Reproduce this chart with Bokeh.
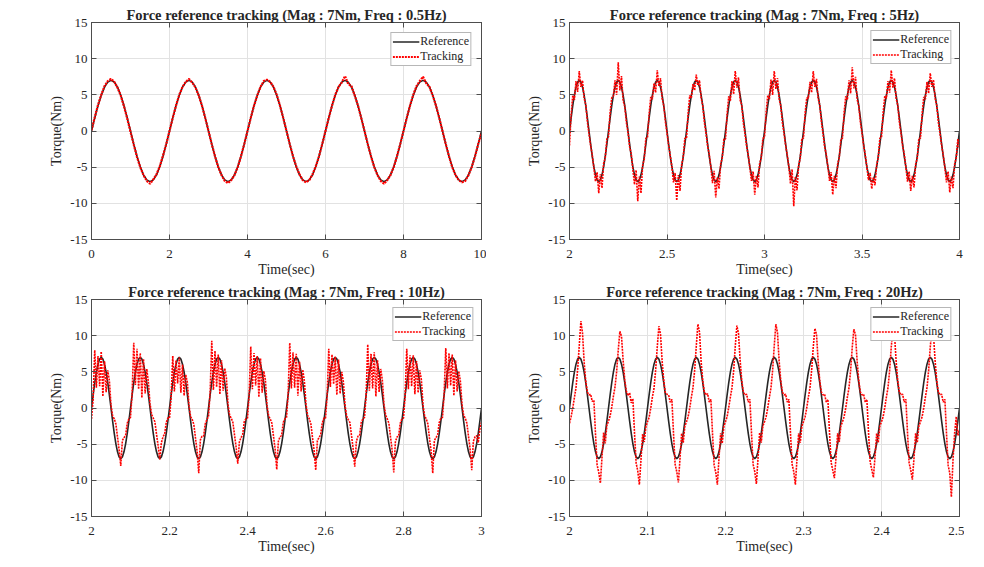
import numpy as np
from bokeh.plotting import figure
from bokeh.layouts import gridplot
from bokeh.models import FixedTicker, LinearAxis
from bokeh.embed import file_html
from bokeh.resources import INLINE

# ---------------- data ----------------
titles = [
    "Force reference tracking (Mag : 7Nm, Freq : 0.5Hz)",
    "Force reference tracking (Mag : 7Nm, Freq : 5Hz)",
    "Force reference tracking (Mag : 7Nm, Freq : 10Hz)",
    "Force reference tracking (Mag : 7Nm, Freq : 20Hz)",
]
x_starts = [0, 2, 2, 2]
x_ends = [10, 4, 3, 2.5]

x_ticks_05hz = [0, 2, 4, 6, 8, 10]
x_labels_05hz = ["0", "2", "4", "6", "8", "10"]
x_ticks_5hz = [2, 2.5, 3, 3.5, 4]
x_labels_5hz = ["2", "2.5", "3", "3.5", "4"]
x_ticks_10hz = [2, 2.2, 2.4, 2.6, 2.8, 3]
x_labels_10hz = ["2", "2.2", "2.4", "2.6", "2.8", "3"]
x_ticks_20hz = [2, 2.1, 2.2, 2.3, 2.4, 2.5]
x_labels_20hz = ["2", "2.1", "2.2", "2.3", "2.4", "2.5"]
y_ticks = [-15, -10, -5, 0, 5, 10, 15]
y_labels = ["-15", "-10", "-5", "0", "5", "10", "15"]

# reference torque, 0.5 Hz panel (5 periods, 24 samples / period)
reference_05hz = [
    0, 1.81, 3.5, 4.95, 6.06, 6.76, 7, 6.76, 6.06, 4.95, 3.5, 1.81, 0, -1.81, -3.5, -4.95, -6.06, -6.76, -7, -6.76, -6.06, -4.95, -3.5, -1.81,
    0, 1.81, 3.5, 4.95, 6.06, 6.76, 7, 6.76, 6.06, 4.95, 3.5, 1.81, 0, -1.81, -3.5, -4.95, -6.06, -6.76, -7, -6.76, -6.06, -4.95, -3.5, -1.81,
    0, 1.81, 3.5, 4.95, 6.06, 6.76, 7, 6.76, 6.06, 4.95, 3.5, 1.81, 0, -1.81, -3.5, -4.95, -6.06, -6.76, -7, -6.76, -6.06, -4.95, -3.5, -1.81,
    0, 1.81, 3.5, 4.95, 6.06, 6.76, 7, 6.76, 6.06, 4.95, 3.5, 1.81, 0, -1.81, -3.5, -4.95, -6.06, -6.76, -7, -6.76, -6.06, -4.95, -3.5, -1.81,
    0, 1.81, 3.5, 4.95, 6.06, 6.76, 7, 6.76, 6.06, 4.95, 3.5, 1.81, 0, -1.81, -3.5, -4.95, -6.06, -6.76, -7, -6.76, -6.06, -4.95, -3.5, -1.81,
    0,
]

# reference torque for the 5 / 10 / 20 Hz panels (each window shows 10 periods)
reference_10_periods = [
    0, 1.81, 3.5, 4.95, 6.06, 6.76, 7, 6.76, 6.06, 4.95, 3.5, 1.81, 0, -1.81, -3.5, -4.95, -6.06, -6.76, -7, -6.76, -6.06, -4.95, -3.5, -1.81,
    0, 1.81, 3.5, 4.95, 6.06, 6.76, 7, 6.76, 6.06, 4.95, 3.5, 1.81, 0, -1.81, -3.5, -4.95, -6.06, -6.76, -7, -6.76, -6.06, -4.95, -3.5, -1.81,
    0, 1.81, 3.5, 4.95, 6.06, 6.76, 7, 6.76, 6.06, 4.95, 3.5, 1.81, 0, -1.81, -3.5, -4.95, -6.06, -6.76, -7, -6.76, -6.06, -4.95, -3.5, -1.81,
    0, 1.81, 3.5, 4.95, 6.06, 6.76, 7, 6.76, 6.06, 4.95, 3.5, 1.81, 0, -1.81, -3.5, -4.95, -6.06, -6.76, -7, -6.76, -6.06, -4.95, -3.5, -1.81,
    0, 1.81, 3.5, 4.95, 6.06, 6.76, 7, 6.76, 6.06, 4.95, 3.5, 1.81, 0, -1.81, -3.5, -4.95, -6.06, -6.76, -7, -6.76, -6.06, -4.95, -3.5, -1.81,
    0, 1.81, 3.5, 4.95, 6.06, 6.76, 7, 6.76, 6.06, 4.95, 3.5, 1.81, 0, -1.81, -3.5, -4.95, -6.06, -6.76, -7, -6.76, -6.06, -4.95, -3.5, -1.81,
    0, 1.81, 3.5, 4.95, 6.06, 6.76, 7, 6.76, 6.06, 4.95, 3.5, 1.81, 0, -1.81, -3.5, -4.95, -6.06, -6.76, -7, -6.76, -6.06, -4.95, -3.5, -1.81,
    0, 1.81, 3.5, 4.95, 6.06, 6.76, 7, 6.76, 6.06, 4.95, 3.5, 1.81, 0, -1.81, -3.5, -4.95, -6.06, -6.76, -7, -6.76, -6.06, -4.95, -3.5, -1.81,
    0, 1.81, 3.5, 4.95, 6.06, 6.76, 7, 6.76, 6.06, 4.95, 3.5, 1.81, 0, -1.81, -3.5, -4.95, -6.06, -6.76, -7, -6.76, -6.06, -4.95, -3.5, -1.81,
    0, 1.81, 3.5, 4.95, 6.06, 6.76, 7, 6.76, 6.06, 4.95, 3.5, 1.81, 0, -1.81, -3.5, -4.95, -6.06, -6.76, -7, -6.76, -6.06, -4.95, -3.5, -1.81,
    0,
]

tracking_05hz = [
    0.1, 1.9, 3.6, 5.0, 6.2, 6.9, 7.2, 6.8, 6.0, 4.9, 3.4, 1.7, -0.1, -1.9, -3.6, -5.0, -6.1, -6.9, -7.3, -6.7, -6.0, -4.9, -3.4, -1.8,
    0.0, 1.8, 3.5, 5.0, 6.1, 6.8, 7.2, 6.7, 6.0, 4.9, 3.5, 1.8, 0.0, -1.8, -3.5, -5.0, -6.1, -6.9, -7.2, -6.8, -6.1, -5.0, -3.5, -1.8,
    0.0, 1.8, 3.5, 4.9, 6.1, 6.9, 7.1, 6.8, 6.1, 5.0, 3.5, 1.8, 0.0, -1.8, -3.5, -4.9, -6.0, -6.8, -7.1, -6.8, -6.0, -4.9, -3.5, -1.8,
    0.0, 1.8, 3.5, 5.0, 6.1, 6.7, 7.6, 6.5, 6.2, 4.9, 3.5, 1.8, 0.0, -1.8, -3.5, -5.0, -6.1, -6.9, -7.3, -6.8, -6.1, -5.0, -3.5, -1.8,
    0.0, 1.8, 3.5, 5.0, 6.2, 6.9, 7.5, 6.6, 6.1, 4.9, 3.5, 1.8, 0.0, -1.8, -3.5, -5.0, -6.1, -6.8, -7.1, -6.9, -6.1, -5.0, -3.5, -1.8,
    -0.3,
]

tracking_5hz = [
    -2.0, 2.2, 4.9, 4.3, 6.9, 5.4, 8.3, 6.1, 7.0, 4.5, 3.7, 1.3, -0.4, -2.0, -3.3, -5.1, -7.0, -5.7, -8.6, -6.0, -7.9, -4.5, -3.7, -1.1,
    -0.8, 2.6, 4.6, 4.8, 7.0, 5.0, 9.5, 5.6, 7.6, 4.2, 3.4, 1.2, -0.2, -2.2, -3.1, -5.3, -7.4, -5.4, -9.7, -6.3, -8.6, -4.8, -3.9, -1.0,
    -0.9, 2.4, 4.7, 4.4, 6.6, 5.3, 8.4, 6.2, 7.3, 4.5, 3.5, 1.3, -0.3, -2.0, -3.4, -4.9, -7.1, -5.8, -9.6, -6.1, -8.3, -4.7, -3.6, -1.0,
    -1.0, 2.5, 4.9, 4.6, 6.5, 5.6, 7.8, 6.3, 7.0, 4.6, 3.5, 1.2, -0.3, -2.1, -3.2, -5.0, -7.2, -5.5, -9.2, -6.4, -8.0, -4.6, -3.7, -1.1,
    -1.1, 2.4, 4.8, 4.2, 6.9, 5.1, 8.3, 6.0, 7.4, 4.3, 3.6, 1.1, -0.4, -2.1, -3.3, -5.1, -6.9, -5.6, -8.8, -6.2, -7.8, -4.5, -3.8, -1.0,
    -0.9, 2.6, 4.9, 4.4, 7.1, 5.0, 8.3, 5.8, 7.3, 4.4, 3.5, 1.2, -0.3, -2.0, -3.3, -5.0, -7.3, -5.3, -10.4, -6.3, -8.2, -4.7, -3.8, -1.0,
    -1.0, 2.5, 4.6, 4.5, 6.8, 5.3, 8.3, 6.1, 7.2, 4.5, 3.6, 1.3, -0.3, -2.2, -3.2, -4.9, -6.9, -5.7, -8.8, -6.2, -7.9, -4.6, -3.7, -1.1,
    -1.0, 2.6, 4.8, 4.3, 7.0, 5.2, 8.8, 5.9, 7.5, 4.4, 3.5, 1.2, -0.3, -2.0, -3.3, -5.0, -6.8, -5.8, -8.0, -6.4, -7.5, -4.7, -3.7, -1.0,
    -0.9, 2.5, 4.8, 4.5, 6.9, 5.3, 8.4, 6.0, 7.3, 4.5, 3.6, 1.2, -0.3, -2.1, -3.2, -5.0, -7.0, -5.6, -8.3, -6.2, -7.8, -4.6, -3.8, -1.0,
    -1.0, 2.4, 4.7, 4.4, 6.8, 5.2, 8.0, 6.1, 7.1, 4.5, 3.5, 1.2, -0.3, -2.0, -3.3, -5.1, -7.1, -5.6, -8.5, -6.3, -7.9, -4.6, -3.7, -1.1,
    -2.5,
]

tracking_10hz = [
    -1.5, 1.2, 8.0, 2.8, 7.2, 3.0, 7.8, 1.6, 6.5, 2.2, 5.2, 3.8, 0.4, -1.1, -1.5, -2.2, -4.0, -5.8, -8.0, -4.5, -4.1, -3.8, -2.1, -1.5,
    -1.3, 2.0, 9.0, 3.2, 8.2, 2.6, 7.6, 1.4, 6.8, 2.0, 5.4, 3.6, 0.6, -0.9, -1.4, -1.9, -3.6, -5.2, -7.1, -4.8, -4.0, -3.6, -2.0, -1.4,
    -1.4, 1.5, 7.2, 2.3, 6.6, 3.4, 7.0, 2.1, 6.0, 1.7, 4.6, 3.5, 0.3, -1.2, -1.6, -2.3, -4.2, -6.0, -9.0, -4.4, -3.9, -3.9, -2.2, -1.6,
    -1.2, 2.2, 9.3, 2.5, 7.9, 2.9, 7.4, 1.9, 6.6, 2.4, 5.5, 4.2, 0.5, -1.0, -1.4, -2.0, -3.7, -5.4, -7.7, -4.7, -4.1, -3.7, -1.9, -1.5,
    -1.4, 1.8, 8.5, 2.6, 7.6, 3.1, 7.2, 1.5, 6.9, 2.1, 5.1, 3.9, 0.4, -1.1, -1.5, -2.1, -3.9, -5.7, -8.5, -4.6, -4.0, -3.8, -2.0, -1.5,
    -1.3, 1.9, 9.0, 2.7, 7.7, 2.8, 7.5, 1.7, 6.4, 2.3, 5.3, 3.7, 0.5, -1.0, -1.5, -2.2, -4.1, -5.9, -8.6, -4.5, -4.1, -3.7, -2.1, -1.4,
    -1.4, 1.6, 8.2, 2.9, 7.4, 3.3, 7.1, 1.8, 6.7, 2.0, 5.0, 3.6, 0.4, -1.1, -1.6, -2.0, -3.8, -5.6, -8.1, -4.6, -3.9, -3.8, -2.0, -1.5,
    -1.3, 1.8, 8.8, 2.4, 7.5, 2.7, 7.7, 1.6, 6.6, 2.2, 5.4, 3.8, 0.5, -1.0, -1.5, -2.1, -4.0, -5.8, -8.9, -4.7, -4.0, -3.9, -2.1, -1.5,
    -1.4, 1.7, 8.2, 2.6, 7.3, 3.0, 7.3, 1.9, 6.5, 2.1, 5.2, 3.9, 0.4, -1.1, -1.5, -2.2, -4.2, -6.0, -9.0, -4.5, -4.1, -3.7, -2.0, -1.4,
    -1.3, 1.9, 8.3, 2.7, 7.6, 3.1, 7.4, 1.7, 6.6, 2.3, 5.1, 3.7, 0.5, -1.0, -1.4, -2.1, -3.9, -5.7, -8.6, -4.6, -4.0, -3.8, -4.8, -2.9,
    -2.0,
]

tracking_20hz = [
    -2.1, -1.2, 0.0, 1.4, 2.8, 5.3, 8.6, 12.0, 10.4, 6.4, 3.7, 2.2, 1.8, 1.9, 0.9, 1.1, -3.6, -7.9, -8.9, -10.4, -6.8, -3.4, -4.9, -2.4,
    -1.8, -1.1, 0.1, 1.6, 2.9, 5.0, 8.0, 10.6, 9.9, 6.6, 3.9, 2.3, 1.7, 2.1, 0.7, 1.3, -3.4, -7.6, -8.7, -10.6, -7.1, -3.6, -4.7, -2.6,
    -1.9, -1.3, 0.0, 1.5, 2.7, 5.2, 8.4, 11.3, 10.2, 6.5, 3.8, 2.1, 1.9, 1.8, 0.8, 1.2, -3.5, -7.8, -8.8, -10.3, -7.0, -3.5, -4.8, -2.5,
    -1.9, -1.2, 0.0, 1.5, 2.8, 5.2, 8.5, 11.6, 10.5, 6.4, 3.8, 2.2, 1.8, 2.0, 0.8, 1.2, -3.5, -7.9, -8.9, -10.6, -6.9, -3.5, -4.9, -2.5,
    -1.9, -1.2, 0.1, 1.5, 2.8, 5.1, 8.5, 11.4, 10.3, 6.6, 3.8, 2.2, 1.8, 1.9, 0.8, 1.2, -3.5, -7.8, -8.8, -10.5, -7.0, -3.4, -4.8, -2.5,
    -1.9, -1.2, 0.0, 1.5, 2.8, 5.2, 8.6, 11.6, 10.4, 6.5, 3.8, 2.2, 1.8, 1.9, 0.8, 1.2, -3.5, -7.8, -8.8, -10.6, -7.0, -3.5, -4.8, -2.5,
    -1.9, -1.2, 0.0, 1.5, 2.8, 5.2, 8.4, 11.0, 10.2, 6.5, 3.8, 2.2, 1.8, 1.9, 0.8, 1.2, -3.4, -7.5, -8.6, -9.7, -6.9, -3.5, -4.7, -2.5,
    -1.9, -1.2, 0.0, 1.5, 2.8, 5.2, 8.4, 10.9, 10.1, 6.5, 3.8, 2.2, 1.8, 1.9, 0.8, 1.2, -3.3, -7.4, -8.5, -9.6, -6.8, -3.5, -4.8, -2.5,
    -1.9, -1.2, 0.0, 1.5, 2.8, 5.2, 8.4, 11.0, 10.2, 6.5, 3.8, 2.2, 1.8, 1.9, 0.8, 1.2, -3.4, -7.6, -8.6, -9.9, -6.9, -3.5, -4.8, -2.5,
    -1.9, -1.2, 0.0, 1.5, 2.8, 5.2, 8.4, 10.8, 10.1, 6.5, 3.8, 2.2, 1.8, 1.9, 0.8, 1.2, -3.5, -7.9, -9.0, -12.3, -7.2, -3.5, -1.2, -3.8,
    -3.0,
]

panels = [
    (titles[0], x_starts[0], x_ends[0], x_ticks_05hz, x_labels_05hz, reference_05hz, tracking_05hz),
    (titles[1], x_starts[1], x_ends[1], x_ticks_5hz, x_labels_5hz, reference_10_periods, tracking_5hz),
    (titles[2], x_starts[2], x_ends[2], x_ticks_10hz, x_labels_10hz, reference_10_periods, tracking_10hz),
    (titles[3], x_starts[3], x_ends[3], x_ticks_20hz, x_labels_20hz, reference_10_periods, tracking_20hz),
]

# ---------------- style ----------------
FONT = "Liberation Serif"
AXIS_COLOR = "#4d4d4d"
TEXT_COLOR = "#262626"
GRID_COLOR = "#e2e2e2"

# layout per grid cell: (width, height, border_left, border_top, top-axis standoff, legend margin)
cells = [
    (486, 281, 91, 22, 3, 10),
    (478, 281, 83, 22, 3, 8),
    (486, 277, 91, 17, 0, 8),
    (478, 277, 83, 17, 0, 8),
]
tracking_widths = [2.2, 1.6, 1.6, 1.6]


def style_axis(ax, size="13px"):
    ax.axis_line_color = AXIS_COLOR
    ax.major_tick_line_color = AXIS_COLOR
    ax.minor_tick_line_color = None
    ax.major_tick_in = 5
    ax.major_tick_out = 0
    ax.major_label_text_font = FONT
    ax.major_label_text_font_size = size
    ax.major_label_text_color = TEXT_COLOR


def make_panel(idx, title, x0, x1, xt, xl, ref, trk):
    w, h, bl, bt, top_standoff, lg_margin = cells[idx]
    p = figure(width=w, height=h, x_range=(x0, x1), y_range=(-15, 15),
               output_backend="svg", toolbar_location=None,
               min_border_left=bl, min_border_right=5,
               min_border_top=bt, min_border_bottom=42,
               background_fill_color="white", border_fill_color="white")
    p.title.text = title
    p.title.align = "center"
    p.title.text_font = FONT
    p.title.text_font_size = "14.5px"
    p.title.text_font_style = "bold"
    p.title.text_color = TEXT_COLOR
    p.title.standoff = 0
    p.title.offset = 0

    p.outline_line_color = AXIS_COLOR

    p.xaxis.ticker = FixedTicker(ticks=xt)
    p.xaxis.major_label_overrides = dict(zip(xt, xl))
    p.yaxis.ticker = FixedTicker(ticks=y_ticks)
    p.yaxis.major_label_overrides = dict(zip(y_ticks, y_labels))
    for ax in list(p.xaxis) + list(p.yaxis):
        style_axis(ax)
        ax.axis_label_text_font = FONT
        ax.axis_label_text_font_size = "14px"
        ax.axis_label_text_font_style = "normal"
        ax.axis_label_text_color = TEXT_COLOR
    p.xaxis.axis_label = "Time(sec)"
    p.xaxis.major_label_standoff = 10
    p.xaxis.axis_label_standoff = 1
    p.yaxis.axis_label = "Torque(Nm)"
    p.yaxis.major_label_standoff = 4
    p.yaxis.axis_label_standoff = 3

    # box ticks on the top and right edges (labels not drawn)
    top = LinearAxis(ticker=FixedTicker(ticks=xt))
    right = LinearAxis(ticker=FixedTicker(ticks=y_ticks))
    for ax in (top, right):
        style_axis(ax, "1px")
        ax.major_label_text_color = None
        ax.major_label_standoff = 0
    top.major_label_standoff = top_standoff
    p.add_layout(top, "above")
    p.add_layout(right, "right")

    p.xgrid.grid_line_color = GRID_COLOR
    p.ygrid.grid_line_color = GRID_COLOR

    t_ref = np.linspace(x0, x1, len(ref))
    t_trk = np.linspace(x0, x1, len(trk))
    p.line(t_ref, ref, line_color="#262626", line_width=1.6, legend_label="Reference")
    p.line(t_trk, trk, line_color="#ff0000", line_width=tracking_widths[idx], line_dash="2 1",
           legend_label="Tracking")

    lg = p.legend[0]
    lg.location = "top_right"
    lg.margin = lg_margin
    lg.padding = 1
    lg.spacing = 0
    lg.glyph_width = 27
    lg.glyph_height = 11
    lg.label_height = 11
    lg.label_standoff = 1
    lg.label_text_font = FONT
    lg.label_text_font_size = "12px"
    lg.label_text_line_height = 1.0
    lg.label_text_color = TEXT_COLOR
    lg.border_line_color = "#707070"
    lg.background_fill_alpha = 1.0
    return p


figs = [make_panel(i, *pa) for i, pa in enumerate(panels)]
grid = gridplot([[figs[0], figs[1]], [figs[2], figs[3]]], toolbar_location=None)

open("out.html", "w").write(file_html(grid, INLINE))
